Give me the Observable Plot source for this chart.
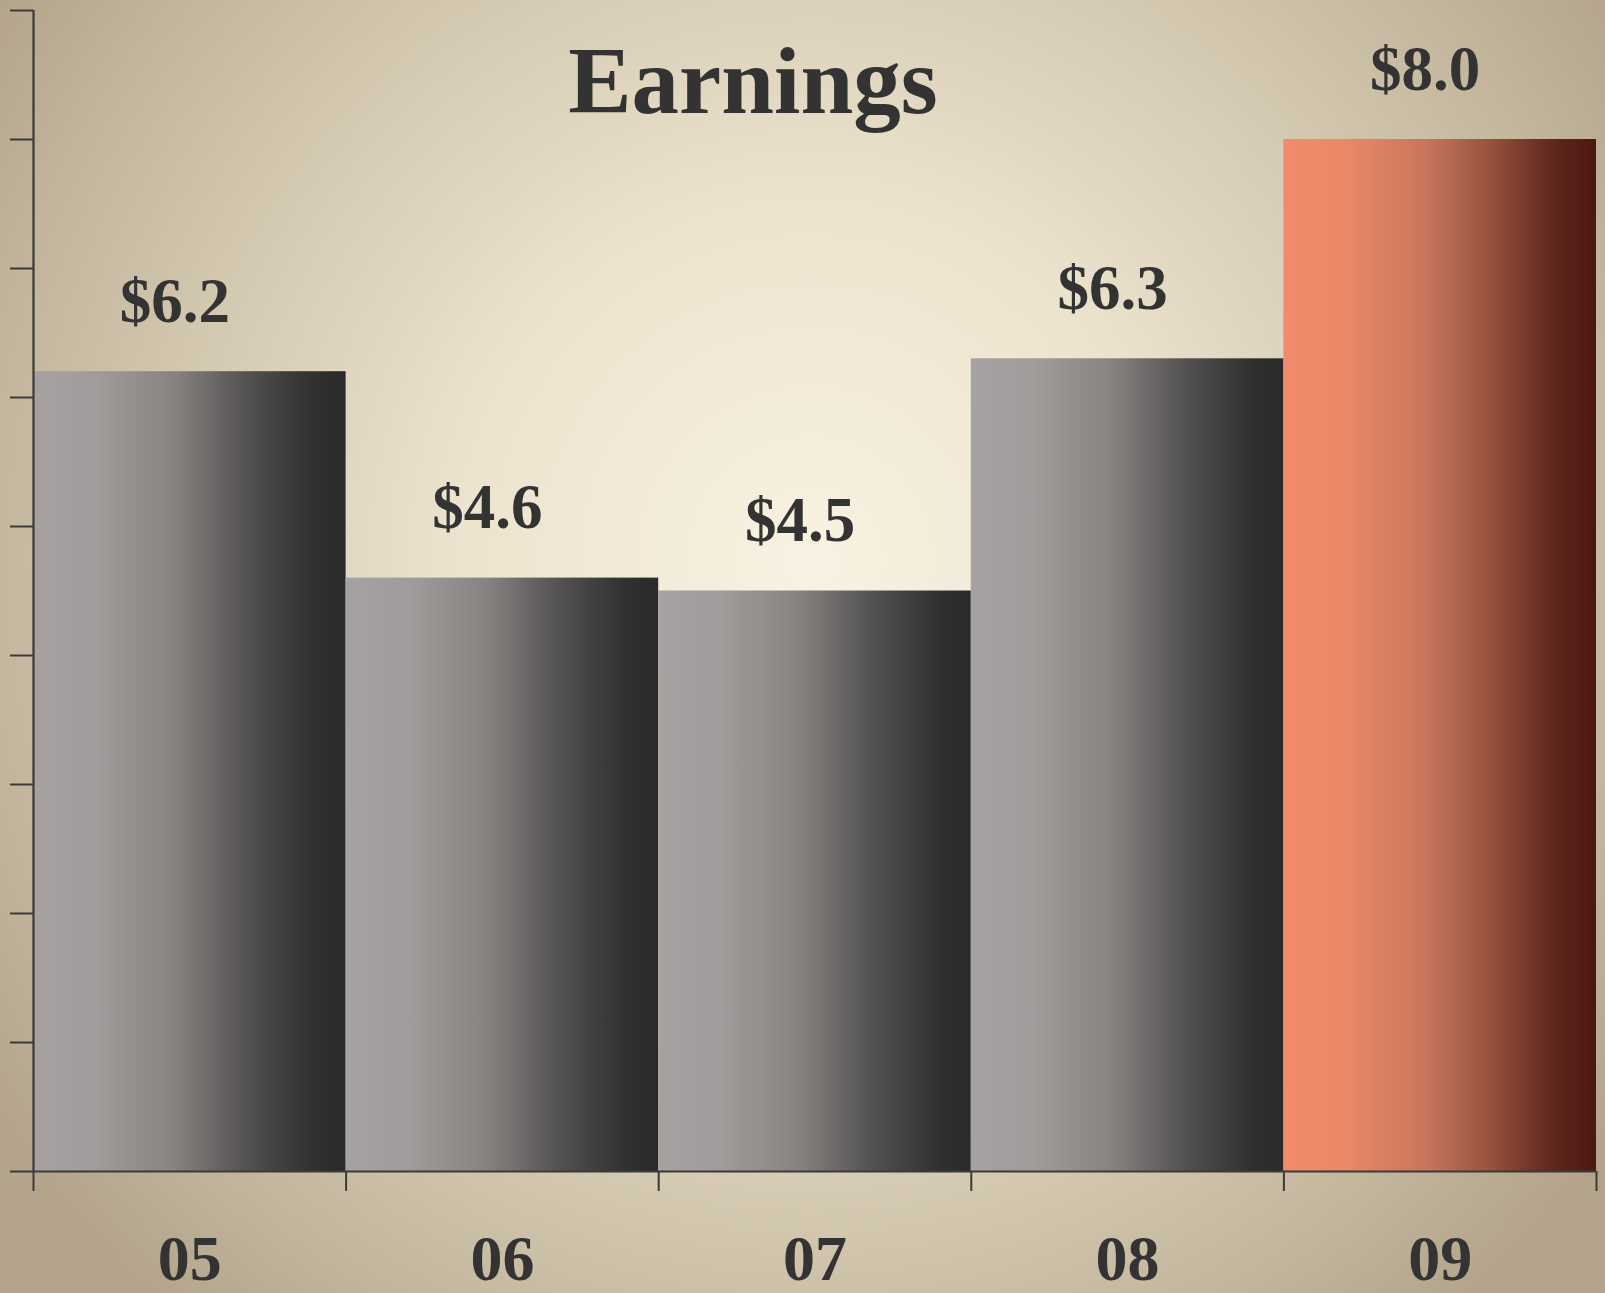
<!DOCTYPE html>
<html><head><meta charset="utf-8">
<script src="https://cdn.jsdelivr.net/npm/d3@7"></script>
<script src="https://cdn.jsdelivr.net/npm/@observablehq/plot@0.6"></script>
<style>
html,body{margin:0;padding:0;}
#wrap{position:relative;width:1605px;height:1293px;overflow:hidden;
background: radial-gradient(ellipse 980px 1000px at 810px 560px, #f9f2e2 0%, #ede4cf 35%, #d8cdb6 60%, #c2b59c 85%, #b3a48b 100%);}
#title{position:absolute;left:753px;top:34px;transform:translateX(-50%);font:bold 95px/95px "Liberation Serif",serif;color:#333;white-space:nowrap;z-index:2;}
#wrap svg{position:absolute;left:0;top:0;}
</style></head>
<body>
<div id="wrap"><div id="title">Earnings</div></div>
<script>
const categories = ["05","06","07","08","09"];
const earnings = [6.2, 4.6, 4.5, 6.3, 8.0];
const valueLabels = ["$6.2","$4.6","$4.5","$6.3","$8.0"];
const highlighted = ["09"];
const yTicks = [0,1,2,3,4,5,6,7,8,9];

const data = categories.map((c, i) => ({cat: c, i, value: earnings[i], label: valueLabels[i], hi: highlighted.includes(c)}));

function defsMark() {
  const defs = d3.create("svg:defs");
  const grad = (id, stops) => {
    const g = defs.append("linearGradient").attr("id", id)
      .attr("x1", "0").attr("x2", "1").attr("y1", "0").attr("y2", "0");
    stops.forEach(([o, c]) => g.append("stop").attr("offset", o).attr("stop-color", c));
  };
  grad("gradBar", [[0,"#a6a2a1"],[0.2,"#a09c9b"],[0.45,"#868381"],[0.7,"#504e4e"],[0.9,"#303030"],[1,"#2a2a2a"]]);
  grad("gradHi", [[0,"#f08c6c"],[0.2,"#eb8868"],[0.45,"#c9765c"],[0.65,"#9a5440"],[0.85,"#602a1e"],[1,"#4e1611"]]);
  return defs.node();
}

const chart = Plot.plot({
  width: 1605, height: 1293,
  marginLeft: 33, marginRight: 9, marginTop: 10, marginBottom: 122,
  style: {background: "transparent", color: "#3a3a3a", fontFamily: "'Liberation Serif', serif", overflow: "visible"},
  x: {type: "linear", domain: [0, categories.length], axis: null, label: null},
  y: {domain: [0, 9], axis: null, label: null},
  marks: [
    defsMark,
    Plot.rectY(data.filter(d => !d.hi), {x1: "i", x2: d => d.i + 1, y: "value", fill: "url(#gradBar)"}),
    Plot.rectY(data.filter(d => d.hi), {x1: "i", x2: d => d.i + 1, y: "value", fill: "url(#gradHi)"}),
    Plot.axisY({ticks: yTicks, tickSize: 23, tickFormat: () => "", strokeWidth: 2, label: null}),
    Plot.ruleX([0], {stroke: "#3a3a3a", strokeWidth: 2.2}),
    Plot.ruleY([0], {stroke: "#3a3a3a", strokeWidth: 2.2}),
    Plot.axisX({ticks: d3.range(0, categories.length + 1), tickSize: 20, tickFormat: () => "", strokeWidth: 2, label: null}),
    Plot.text(data, {x: d => d.i + 0.5, y: "value", text: "label", dy: -50, dx: -15, lineAnchor: "bottom",
      fontSize: 63, fontWeight: "bold", fill: "#333"}),
    Plot.text(data, {x: d => d.i + 0.5, y: () => 0, text: "cat", dy: 108, lineAnchor: "bottom",
      fontSize: 64, fontWeight: "bold", fill: "#333"})
  ]
});
document.getElementById("wrap").appendChild(chart);
</script>
</body></html>
